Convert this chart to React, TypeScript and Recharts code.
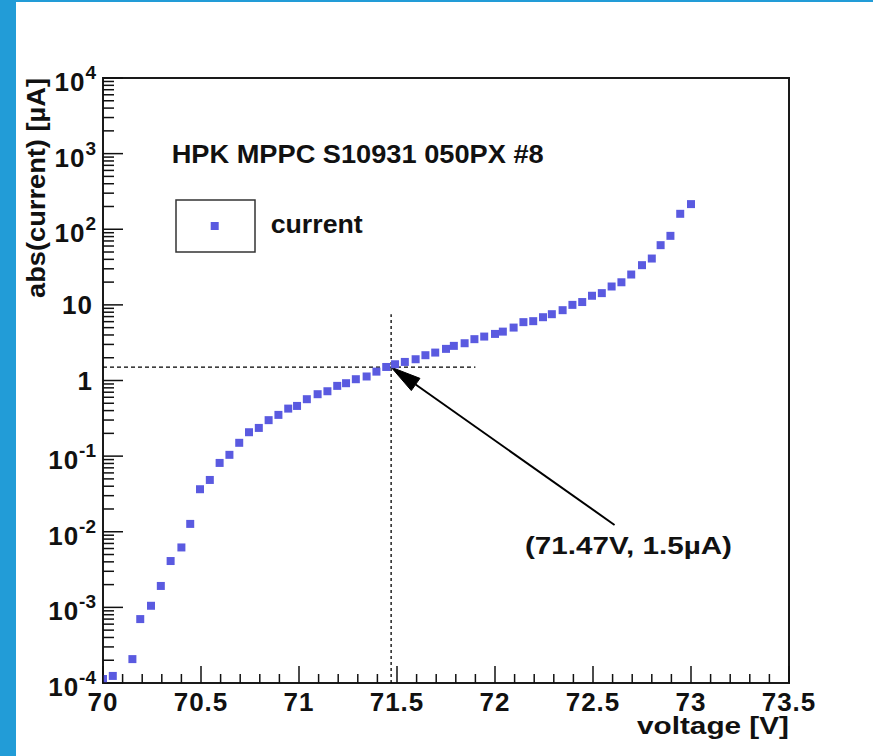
import React from 'react';
import {
  ScatterChart,
  Scatter,
  XAxis,
  YAxis,
  ReferenceArea,
  ReferenceLine,
  ReferenceDot,
  Legend,
} from 'recharts';

// Measured I-V scan: bias voltage [V] and absolute current [µA]
const voltage = [
  70.0, 70.05, 70.15, 70.19, 70.245, 70.295, 70.345, 70.4, 70.445, 70.495,
  70.545, 70.595, 70.645, 70.695, 70.745, 70.795, 70.845, 70.895, 70.945, 70.99,
  71.04, 71.095, 71.145, 71.195, 71.24, 71.29, 71.345, 71.395, 71.445, 71.49,
  71.54, 71.595, 71.645, 71.695, 71.75, 71.79, 71.845, 71.895, 71.945, 72.0,
  72.04, 72.095, 72.145, 72.195, 72.245, 72.29, 72.345, 72.395, 72.445, 72.495,
  72.545, 72.595, 72.645, 72.695, 72.75, 72.8, 72.845, 72.895, 72.945, 73.0,
];
const currentUA = [
  1.13e-4, 1.24e-4, 2.07e-4, 7.0e-4, 1.05e-3, 1.92e-3, 4.1e-3, 6.2e-3, 1.27e-2, 0.0365,
  0.0484, 0.0813, 0.104, 0.15, 0.207, 0.236, 0.299, 0.351, 0.425, 0.461,
  0.566, 0.659, 0.721, 0.849, 0.921, 1.04, 1.13, 1.31, 1.51, 1.64,
  1.76, 1.91, 2.16, 2.34, 2.62, 2.87, 3.11, 3.52, 3.81, 4.13,
  4.43, 5.01, 5.91, 6.09, 6.87, 7.53, 8.51, 10.0, 10.9, 13.2,
  14.3, 17.5, 19.9, 25.2, 33.5, 41.0, 61.6, 81.8, 160, 215,
];

// Breakdown point marked on the plot
const kneeV = 71.47;
const kneeI = 1.5;
const guideEndV = 71.9;
const guideTopI = 7.5;
const arrowTail = { v: 72.61, i: 0.0123 };
const noteAnchor = { v: 72.153, i: 0.00508 };

// Axis ranges and ticks
const xDomain: [number, number] = [70, 73.5];
const yDomain: [number, number] = [1e-4, 1e4];
const xMajorTicks = [70, 70.5, 71, 71.5, 72, 72.5, 73, 73.5];
const yMajorExponents = [-4, -3, -2, -1, 0, 1, 2, 3, 4];

const titleText = 'HPK MPPC S10931 050PX #8';
const seriesName = 'current';
const xTitle = 'voltage [V]';
const yTitle = 'abs(current) [µA]';

const FONT = '"Liberation Sans", Arial, Helvetica, sans-serif';
const MARKER = '#5a5ae0';
const INK = '#111';

const xTicks: number[] = [];
for (let k = 0; k <= 35; k++) xTicks.push(Math.round((70 + k * 0.1) * 100) / 100);

const yTicks: number[] = [];
for (const e of yMajorExponents) {
  yTicks.push(Math.pow(10, e));
  if (e < 4) for (let m = 2; m <= 9; m++) yTicks.push(m * Math.pow(10, e));
}

const points = voltage.map((v, idx) => ({ v, i: currentUA[idx] }));

const XTick = (p: any) => {
  const v: number = p.payload.value;
  const major = xMajorTicks.some((t) => Math.abs(t - v) < 1e-6);
  return (
    <g>
      <line x1={p.x} x2={p.x} y1={p.y} y2={p.y - (major ? 17 : 9)} stroke={INK} strokeWidth={1.5} />
      {major && (
        <text
          x={p.x}
          y={p.y + 28}
          textAnchor="middle"
          fontFamily={FONT}
          fontWeight="bold"
          fontSize={26}
          letterSpacing={1}
          fill={INK}
        >
          {String(v)}
        </text>
      )}
    </g>
  );
};

const YTick = (p: any) => {
  const v: number = p.payload.value;
  const e = Math.log10(v);
  const exp = Math.round(e);
  const major = Math.abs(e - exp) < 1e-6;
  let label: React.ReactNode = null;
  if (major) {
    if (exp === 0 || exp === 1) {
      label = (
        <text x={p.x - 10} y={p.y + 9} textAnchor="end" fontFamily={FONT} fontWeight="bold" fontSize={26} letterSpacing={1} fill={INK}>
          {exp === 0 ? '1' : '10'}
        </text>
      );
    } else {
      label = (
        <text x={p.x - 7} y={p.y + 13} textAnchor="end" fontFamily={FONT} fontWeight="bold" fontSize={26} letterSpacing={1} fill={INK}>
          10
          <tspan dy={-12} fontSize={19} letterSpacing={0}>
            {String(exp)}
          </tspan>
        </text>
      );
    }
  }
  return (
    <g>
      <line x1={p.x} x2={p.x + (major ? 20 : 11)} y1={p.y} y2={p.y} stroke={INK} strokeWidth={1.5} />
      {label}
    </g>
  );
};

// Straight arrow with a filled head at the second segment point
const ArrowShape = (p: any) => {
  const { x1, y1, x2, y2 } = p;
  const dx = x2 - x1;
  const dy = y2 - y1;
  const len = Math.sqrt(dx * dx + dy * dy) || 1;
  const ux = dx / len;
  const uy = dy / len;
  const headLen = 30;
  const headHalf = 7.5;
  const bx = x2 - ux * headLen;
  const by = y2 - uy * headLen;
  const left = `${bx - uy * headHalf},${by + ux * headHalf}`;
  const right = `${bx + uy * headHalf},${by - ux * headHalf}`;
  return (
    <g>
      <line x1={x1} y1={y1} x2={bx} y2={by} stroke="#000" strokeWidth={2} />
      <polygon points={`${x2},${y2} ${left} ${right}`} fill="#000" stroke="#000" strokeWidth={1} />
    </g>
  );
};

const NoteShape = (p: any) => (
  <text
    x={p.cx}
    y={p.cy}
    textAnchor="start"
    fontFamily={FONT}
    fontWeight="bold"
    fontSize={23}
    textLength={207}
    lengthAdjust="spacingAndGlyphs"
    fill={INK}
  >
    {`(${kneeV}V, ${kneeI}µA)`}
  </text>
);

const LegendBox = () => (
  <svg width={200} height={60} style={{ display: 'block', overflow: 'visible' }}>
    <rect x={1} y={1} width={79} height={52} fill="#fff" stroke="#333" strokeWidth={1.5} />
    <rect x={35.7} y={23} width={8} height={8} fill={MARKER} />
    <text
      x={95.7}
      y={34.3}
      fontFamily={FONT}
      fontWeight="bold"
      fontSize={25}
      textLength={92}
      lengthAdjust="spacingAndGlyphs"
      fill={INK}
    >
      {seriesName}
    </text>
  </svg>
);

export default function App() {
  return (
    <div style={{ position: 'absolute', left: 0, top: 0, width: 873, height: 756, background: '#fff' }}>
      <div style={{ position: 'absolute', left: 0, top: 0, width: 16, height: 756, background: '#229cd7' }} />
      <div style={{ position: 'absolute', left: 0, top: 0, width: 873, height: 2, background: '#229cd7' }} />
      <div style={{ position: 'absolute', left: 0, top: 0 }}>
        <ScatterChart width={873} height={756} margin={{ top: 78, right: 84, bottom: 43, left: 43 }}>
          <XAxis
            dataKey="v"
            type="number"
            domain={xDomain}
            ticks={xTicks}
            interval={0}
            allowDataOverflow
            axisLine={false}
            tickLine={false}
            tickSize={0}
            tickMargin={0}
            height={30}
            tick={(p: any) => <XTick {...p} />}
          />
          <YAxis
            dataKey="i"
            type="number"
            scale="log"
            domain={yDomain}
            ticks={yTicks}
            interval={0}
            allowDataOverflow
            axisLine={false}
            tickLine={false}
            tickSize={0}
            tickMargin={0}
            width={60}
            tick={(p: any) => <YTick {...p} />}
          />
          <ReferenceArea
            x1={xDomain[0]}
            x2={xDomain[1]}
            y1={yDomain[0]}
            y2={yDomain[1]}
            fill="none"
            fillOpacity={0}
            stroke="#1a1a1a"
            strokeWidth={2}
            ifOverflow="visible"
          />
          <ReferenceLine
            segment={[
              { x: xDomain[0], y: kneeI },
              { x: guideEndV, y: kneeI },
            ]}
            stroke="#000"
            strokeWidth={1.3}
            strokeDasharray="4 3"
            ifOverflow="visible"
          />
          <ReferenceLine
            segment={[
              { x: kneeV, y: yDomain[0] },
              { x: kneeV, y: guideTopI },
            ]}
            stroke="#000"
            strokeWidth={1.3}
            strokeDasharray="3 3"
            ifOverflow="visible"
          />
          <Scatter name={seriesName} data={points} shape="square" fill={MARKER} isAnimationActive={false} />
          <ReferenceLine
            segment={[
              { x: arrowTail.v, y: arrowTail.i },
              { x: kneeV, y: kneeI },
            ]}
            shape={ArrowShape}
            ifOverflow="visible"
          />
          <ReferenceDot x={noteAnchor.v} y={noteAnchor.i} r={0} shape={NoteShape} ifOverflow="visible" />
          <Legend
            layout="horizontal"
            verticalAlign="middle"
            align="center"
            wrapperStyle={{ left: 175, top: 199, width: 200, height: 60 }}
            content={() => <LegendBox />}
          />
          <text
            x={171.7}
            y={163.3}
            fontFamily={FONT}
            fontWeight="bold"
            fontSize={25}
            textLength={372}
            lengthAdjust="spacingAndGlyphs"
            fill={INK}
          >
            {titleText}
          </text>
          <text
            x={789}
            y={734}
            textAnchor="end"
            fontFamily={FONT}
            fontWeight="bold"
            fontSize={24}
            textLength={152}
            lengthAdjust="spacingAndGlyphs"
            fill={INK}
          >
            {xTitle}
          </text>
          <text
            x={0}
            y={0}
            transform="translate(45,78) rotate(-90)"
            textAnchor="end"
            fontFamily={FONT}
            fontWeight="bold"
            fontSize={26}
            textLength={220}
            lengthAdjust="spacingAndGlyphs"
            fill={INK}
          >
            {yTitle}
          </text>
        </ScatterChart>
      </div>
    </div>
  );
}
